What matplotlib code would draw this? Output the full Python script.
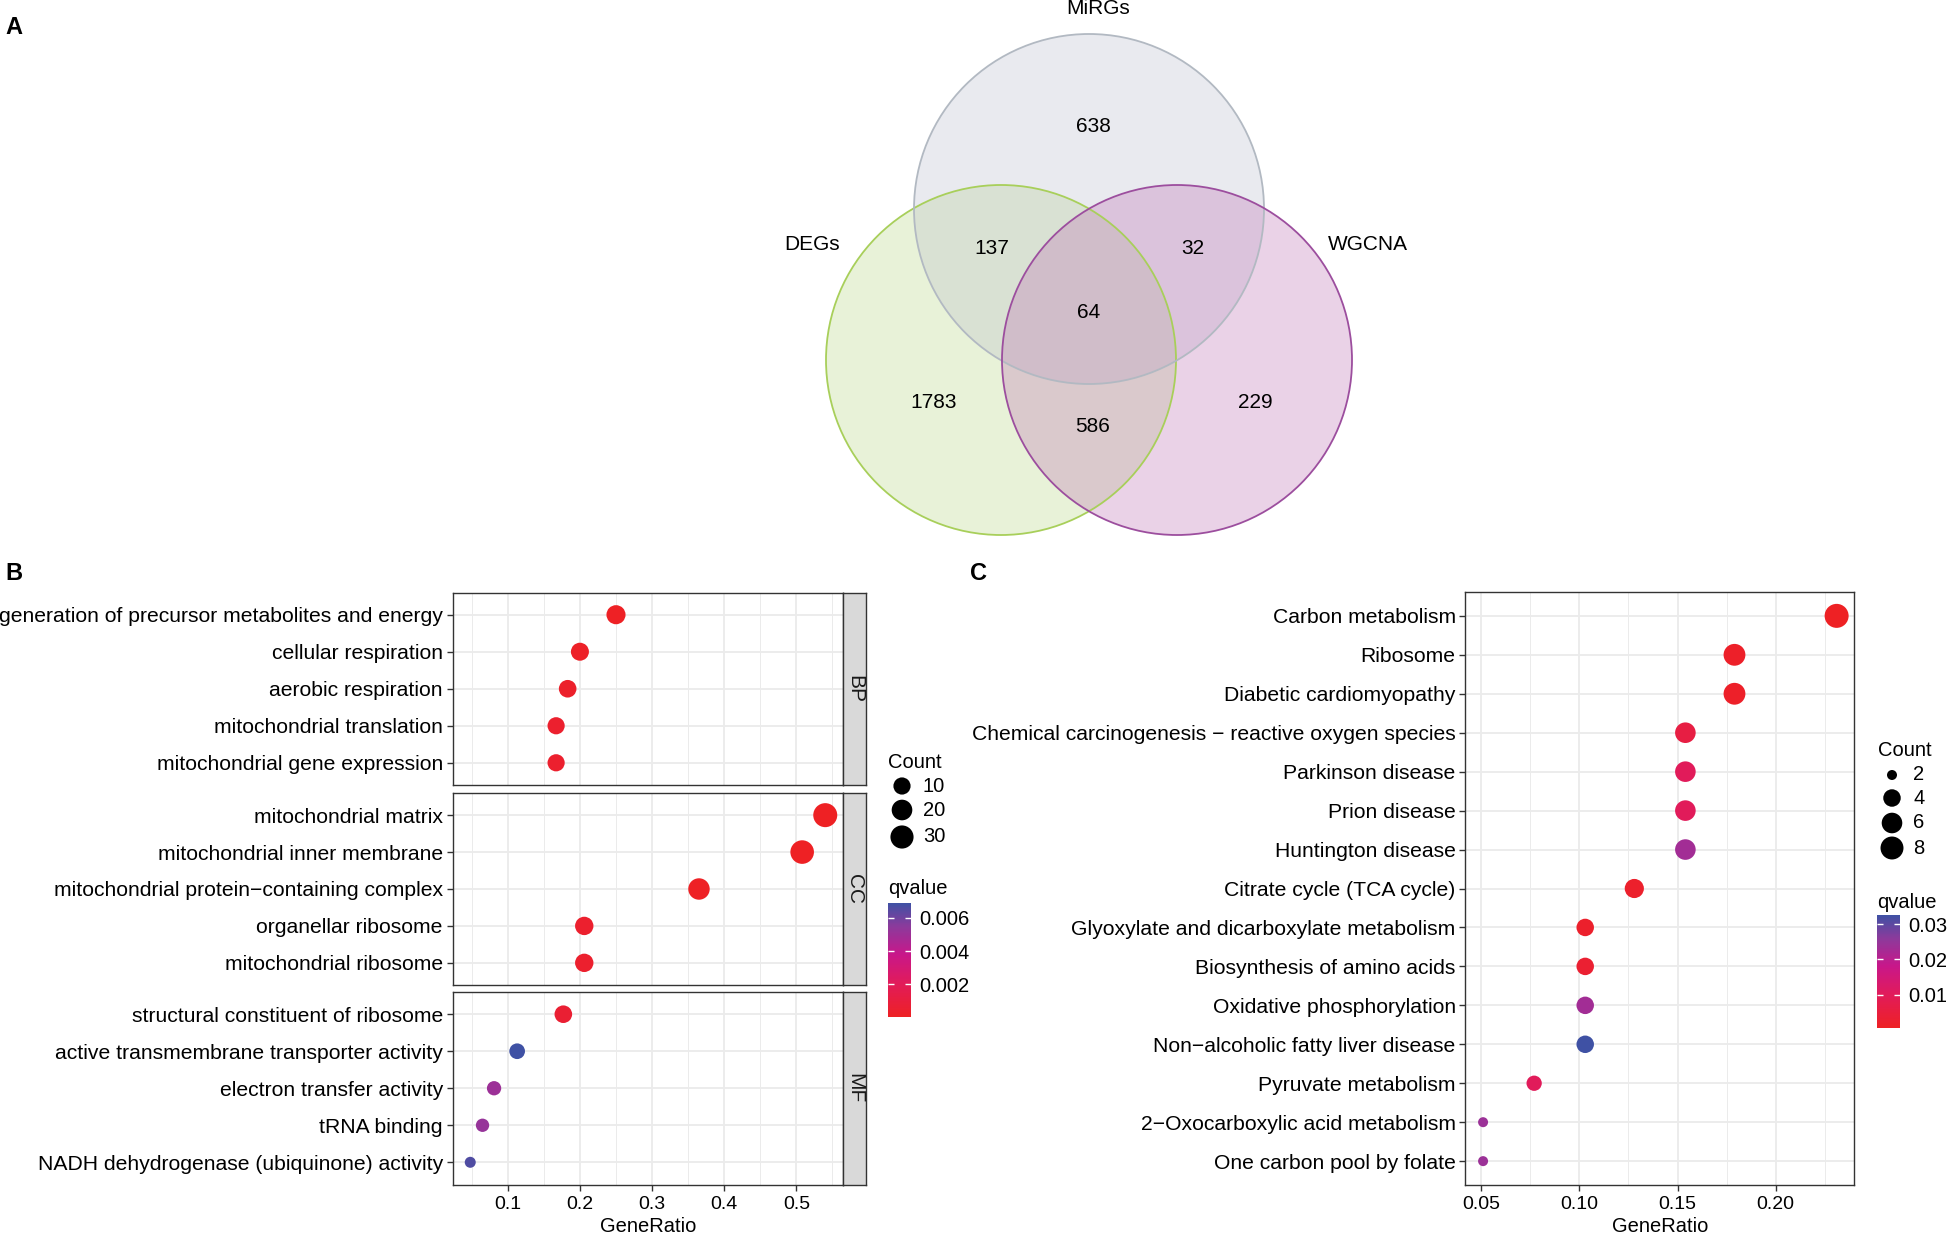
import numpy as np
import matplotlib
matplotlib.use("Agg")
import matplotlib.pyplot as plt
from matplotlib.patches import Circle
from matplotlib.colors import LinearSegmentedColormap, Normalize

plt.rcParams['font.family'] = ['Liberation Sans', 'DejaVu Sans']

# --- Данные ---
# Venn (A)
venn_names = ["DEGs", "MiRGs", "WGCNA"]
venn_only_deg, venn_only_mirg, venn_only_wgcna = 1783, 638, 229
venn_deg_mirg, venn_mirg_wgcna, venn_deg_wgcna, venn_all = 137, 32, 586, 64

# GO (B)
bp_terms = ["generation of precursor metabolites and energy", "cellular respiration",
            "aerobic respiration", "mitochondrial translation", "mitochondrial gene expression"]
bp_ratio = [0.250, 0.200, 0.183, 0.167, 0.167]
bp_count = [15, 12, 11, 10, 10]
bp_q = [0.00005, 0.0002, 0.0003, 0.0004, 0.0004]

cc_terms = ["mitochondrial matrix", "mitochondrial inner membrane",
            "mitochondrial protein\u2212containing complex", "organellar ribosome", "mitochondrial ribosome"]
cc_ratio = [0.540, 0.508, 0.365, 0.206, 0.206]
cc_count = [34, 32, 23, 13, 13]
cc_q = [0.00002, 0.00002, 0.00005, 0.0004, 0.0004]

mf_terms = ["structural constituent of ribosome", "active transmembrane transporter activity",
            "electron transfer activity", "tRNA binding", "NADH dehydrogenase (ubiquinone) activity"]
mf_ratio = [0.177, 0.113, 0.081, 0.065, 0.048]
mf_count = [11, 7, 5, 4, 3]
mf_q = [0.0006, 0.0069, 0.0050, 0.0052, 0.0066]

go_facets = ["BP", "CC", "MF"]
go_count_legend = [10, 20, 30]
go_q_ticks = [0.002, 0.004, 0.006]

# KEGG (C)
kegg_terms = ["Carbon metabolism", "Ribosome", "Diabetic cardiomyopathy",
              "Chemical carcinogenesis \u2212 reactive oxygen species", "Parkinson disease",
              "Prion disease", "Huntington disease", "Citrate cycle (TCA cycle)",
              "Glyoxylate and dicarboxylate metabolism", "Biosynthesis of amino acids",
              "Oxidative phosphorylation", "Non\u2212alcoholic fatty liver disease",
              "Pyruvate metabolism", "2\u2212Oxocarboxylic acid metabolism", "One carbon pool by folate"]
kegg_ratio = [0.231, 0.179, 0.179, 0.154, 0.154, 0.154, 0.154, 0.128,
              0.103, 0.103, 0.103, 0.103, 0.077, 0.051, 0.051]
kegg_count = [9, 7, 7, 6, 6, 6, 6, 5, 4, 4, 4, 4, 3, 2, 2]
kegg_q = [0.0005, 0.0015, 0.0015, 0.006, 0.010, 0.010, 0.023, 0.002,
          0.002, 0.003, 0.023, 0.0326, 0.010, 0.024, 0.024]
kegg_count_legend = [2, 4, 6, 8]
kegg_q_ticks = [0.01, 0.02, 0.03]

# --- Оформление ---
W, H, DPI = 1947, 1235, 100
PX = 72.0 / DPI
qcmap = LinearSegmentedColormap.from_list(
    "qv", [(0.0, '#EE2124'), (0.3, '#E11B5B'), (0.55, '#C8178A'), (0.8, '#8A3B9C'), (1.0, '#3F51A4')])
GRID = '#EBEBEB'
DARK = '#333333'
TICK_FS = 15.2
LEG_FS = 14.5


def px_rect(x0, y0, x1, y1):
    return [x0 / W, 1 - y1 / H, (x1 - x0) / W, (y1 - y0) / H]


def size_fn(counts, cmin, cmax, dmin, dmax):
    # площадь точки как в ggplot scale_size
    c = np.asarray(counts, dtype=float)
    d = dmin + (dmax - dmin) * np.sqrt(np.clip((c - cmin) / (cmax - cmin), 0, 1))
    return (d * PX) ** 2


def style_axes(ax, xlim, major, minor, labels, show_x):
    ax.set_xlim(*xlim)
    ax.set_xticks(major)
    ax.set_xticks(minor, minor=True)
    if show_x:
        ax.set_xticklabels(labels)
    else:
        ax.set_xticklabels([])
    ax.grid(True, which='major', color=GRID, lw=1.3)
    ax.grid(True, which='minor', color=GRID, lw=0.7)
    ax.set_axisbelow(True)
    for s in ax.spines.values():
        s.set_color(DARK)
        s.set_linewidth(1.0)
    ax.tick_params(axis='both', which='major', length=4, width=1, color=DARK, labelsize=TICK_FS,
                   labelcolor='black', pad=3)
    ax.tick_params(axis='x', which='major', length=4 if show_x else 0, pad=4, labelsize=14)
    ax.tick_params(which='minor', length=0)


fig = plt.figure(figsize=(W / DPI, H / DPI), dpi=DPI)
bg = fig.add_axes([0, 0, 1, 1])
bg.set_xlim(0, W)
bg.set_ylim(H, 0)
bg.axis('off')

# --- A: диаграмма Венна ---
R = 175
c_mirg, c_deg, c_wgcna = (1089, 209), (1001, 360), (1177, 360)
bg.add_patch(Circle(c_deg, R, facecolor='#B6D480', alpha=0.3, edgecolor='none'))
bg.add_patch(Circle(c_mirg, R, facecolor='#B9BCCA', alpha=0.3, edgecolor='none'))
bg.add_patch(Circle(c_wgcna, R, facecolor='#BC6CB2', alpha=0.3, edgecolor='none'))
bg.add_patch(Circle(c_deg, R, facecolor='none', edgecolor='#A8CF5A', lw=1.3))
bg.add_patch(Circle(c_mirg, R, facecolor='none', edgecolor='#B2B9C2', lw=1.3))
bg.add_patch(Circle(c_wgcna, R, facecolor='none', edgecolor='#9C4E9E', lw=1.3))

vfs = 15
bg.text(1098, 9, venn_names[1], ha='center', va='center', fontsize=vfs)
bg.text(812, 244, venn_names[0], ha='center', va='center', fontsize=vfs)
bg.text(1368, 244, venn_names[2], ha='center', va='center', fontsize=vfs)
bg.text(1093, 126, str(venn_only_mirg), ha='center', va='center', fontsize=vfs)
bg.text(992, 248, str(venn_deg_mirg), ha='center', va='center', fontsize=vfs)
bg.text(1193, 248, str(venn_mirg_wgcna), ha='center', va='center', fontsize=vfs)
bg.text(1089, 313, str(venn_all), ha='center', va='center', fontsize=vfs)
bg.text(934, 402, str(venn_only_deg), ha='center', va='center', fontsize=vfs)
bg.text(1255, 402, str(venn_only_wgcna), ha='center', va='center', fontsize=vfs)
bg.text(1093, 426, str(venn_deg_wgcna), ha='center', va='center', fontsize=vfs)

bg.text(5, 27, "A", ha='left', va='center', fontsize=17, fontweight='bold')
bg.text(5, 574, "B", ha='left', va='center', fontsize=17, fontweight='bold')
bg.text(970, 574, "C", ha='left', va='center', fontsize=17, fontweight='bold')

# --- B: GO dotplot ---
go_norm = Normalize(vmin=min(bp_q + cc_q + mf_q), vmax=max(bp_q + cc_q + mf_q))
go_all_counts = bp_count + cc_count + mf_count
go_cmin, go_cmax = min(go_all_counts), max(go_all_counts)
go_all_ratio = bp_ratio + cc_ratio + mf_ratio
rmin, rmax = min(go_all_ratio), max(go_all_ratio)
go_xlim = (rmin - 0.05 * (rmax - rmin), rmax + 0.05 * (rmax - rmin))

facet_data = [(bp_terms, bp_ratio, bp_count, bp_q),
              (cc_terms, cc_ratio, cc_count, cc_q),
              (mf_terms, mf_ratio, mf_count, mf_q)]
facet_y = [(592.5, 785), (793, 985), (992, 1184.5)]
px0, px1, sx1 = 452.5, 843, 866
for i, (terms, ratio, count, q) in enumerate(facet_data):
    y0, y1 = facet_y[i]
    ax = fig.add_axes(px_rect(px0, y0, px1, y1))
    n = len(terms)
    ypos = np.arange(n, 0, -1)
    ax.scatter(ratio, ypos, s=size_fn(count, go_cmin, go_cmax, 11, 24), c=q, cmap=qcmap,
               norm=go_norm, edgecolors='none', zorder=3)
    ax.set_ylim(0.4, n + 0.6)
    ax.set_yticks(ypos)
    ax.set_yticklabels(terms)
    last = i == len(facet_data) - 1
    style_axes(ax, go_xlim, [0.1, 0.2, 0.3, 0.4, 0.5], [0.05, 0.15, 0.25, 0.35, 0.45, 0.55],
               ["0.1", "0.2", "0.3", "0.4", "0.5"], last)
    ax.grid(False, axis='y', which='minor')
    if last:
        ax.set_xlabel("GeneRatio", fontsize=14.5, labelpad=3)
    sax = fig.add_axes(px_rect(px1, y0, sx1, y1))
    sax.set_facecolor('#D9D9D9')
    sax.set_xticks([])
    sax.set_yticks([])
    for s in sax.spines.values():
        s.set_color(DARK)
        s.set_linewidth(1.0)
    sax.text(0.5, 0.5, go_facets[i], rotation=-90, ha='center', va='center', fontsize=15,
             color='#1A1A1A', transform=sax.transAxes)

# легенды B
bg.text(888, 762, "Count", ha='left', va='center', fontsize=LEG_FS)
bg.scatter([902] * len(go_count_legend), [786, 810, 837],
           s=size_fn(go_count_legend, go_cmin, go_cmax, 11, 24), color='black', edgecolors='none')
for v, yy in zip(go_count_legend, [786, 810, 837]):
    bg.text(923, yy, str(v), ha='left', va='center', fontsize=LEG_FS)
bg.text(888, 888, "qvalue", ha='left', va='center', fontsize=LEG_FS)
cax = fig.add_axes(px_rect(888, 903, 911, 1017))
cb = fig.colorbar(plt.cm.ScalarMappable(norm=go_norm, cmap=qcmap), cax=cax)
cb.set_ticks(go_q_ticks)
cb.set_ticklabels(["0.002", "0.004", "0.006"])
cb.outline.set_visible(False)
cax.tick_params(direction='in', length=4, width=1, color='white', labelsize=LEG_FS, pad=6, left=True)

# --- C: KEGG dotplot ---
k_norm = Normalize(vmin=min(kegg_q), vmax=max(kegg_q))
k_cmin, k_cmax = min(kegg_count), max(kegg_count)
kmin, kmax = min(kegg_ratio), max(kegg_ratio)
k_xlim = (kmin - 0.05 * (kmax - kmin), kmax + 0.05 * (kmax - kmin))

axk = fig.add_axes(px_rect(1465.4, 592.5, 1854.3, 1184.5))
nk = len(kegg_terms)
ky = np.arange(nk, 0, -1)
axk.scatter(kegg_ratio, ky, s=size_fn(kegg_count, k_cmin, k_cmax, 10, 24), c=kegg_q, cmap=qcmap,
            norm=k_norm, edgecolors='none', zorder=3)
axk.set_ylim(0.4, nk + 0.6)
axk.set_yticks(ky)
axk.set_yticklabels(kegg_terms)
style_axes(axk, k_xlim, [0.05, 0.10, 0.15, 0.20], [0.075, 0.125, 0.175, 0.225],
           ["0.05", "0.10", "0.15", "0.20"], True)
axk.grid(False, axis='y', which='minor')
axk.set_xlabel("GeneRatio", fontsize=14.5, labelpad=3)

bg.text(1878, 750, "Count", ha='left', va='center', fontsize=LEG_FS)
bg.scatter([1892] * len(kegg_count_legend), [775, 798, 823, 848],
           s=size_fn(kegg_count_legend, k_cmin, k_cmax, 10, 24), color='black', edgecolors='none')
for v, yy in zip(kegg_count_legend, [775, 798, 823, 848]):
    bg.text(1913, yy, str(v), ha='left', va='center', fontsize=LEG_FS)
bg.text(1877, 902, "qvalue", ha='left', va='center', fontsize=LEG_FS)
cax2 = fig.add_axes(px_rect(1877, 915, 1900, 1028))
cb2 = fig.colorbar(plt.cm.ScalarMappable(norm=k_norm, cmap=qcmap), cax=cax2)
cb2.set_ticks(kegg_q_ticks)
cb2.set_ticklabels(["0.01", "0.02", "0.03"])
cb2.outline.set_visible(False)
cax2.tick_params(direction='in', length=4, width=1, color='white', labelsize=LEG_FS, pad=6, left=True)

fig.savefig("out.png", dpi=DPI)
